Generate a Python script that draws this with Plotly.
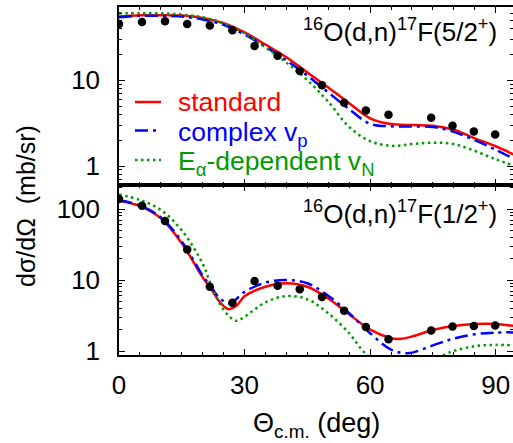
import plotly.graph_objects as go

# ---------------- data ----------------
# experimental angles (deg, c.m.)
exp_angles = [0, 5.5, 11, 16.3, 21.7, 27.1, 32.4, 37.9, 43.2, 48.5, 53.8, 59.0, 64.4, 74.6, 79.7, 84.8, 89.9]
exp_52 = [45.2, 47.6, 48.5, 45.2, 43.2, 38.1, 25.0, 19.3, 12.8, 8.75, 5.44, 4.44, 3.95, 3.65, 2.94, 2.53, 2.33]
exp_12 = [138, 111, 68, 27, 8.05, 4.8, 9.7, 8.3, 7.4, 5.75, 3.7, 2.18, 1.46, 1.95, 2.22, 2.25, 2.29]

# 5/2+ theory curves
th_angles_52 = [0, 5, 10, 15, 20, 25, 30, 35, 40, 45, 50, 55, 60, 65, 70, 75, 80, 85, 90, 94.5]
std_52 = [55, 57, 57, 56.5, 53, 46, 36, 26, 18.5, 12.3, 8.2, 5.4, 3.6, 3.08, 3.0, 2.95, 2.65, 2.1, 1.7, 1.35]
cvp_52 = [54, 56, 56, 55, 51, 44, 34, 24.5, 17, 11.3, 7.2, 4.6, 3.1, 2.9, 2.88, 2.85, 2.5, 2.0, 1.55, 1.2]
evn_52 = [60, 60, 60, 58, 54, 46, 35, 24, 16, 10, 5.6, 2.85, 1.95, 1.72, 1.8, 1.87, 1.8, 1.5, 1.2, 1.0]

# 1/2+ theory curves
std_12_angles = [0, 5, 10, 15, 20, 22, 24, 26, 28, 30, 35, 40, 45, 50, 55, 60, 65, 67, 70, 75, 80, 85, 90, 94.5]
std_12 = [131, 110, 74, 33, 10.9, 7.5, 5.0, 3.9, 4.3, 5.9, 8.05, 9.0, 8.05, 5.5, 3.3, 2.0, 1.52, 1.48, 1.6, 1.98, 2.25, 2.4, 2.4, 2.25]
cvp_12_angles = [0, 5, 10, 15, 20, 22, 24, 26.5, 30, 35, 40, 45, 50, 55, 60, 65, 69, 75, 80, 85, 90, 94.5]
cvp_12 = [133, 112, 76, 35, 11.5, 8.0, 5.6, 4.7, 6.8, 9.2, 10, 9.0, 6.0, 3.4, 1.78, 1.05, 0.93, 1.2, 1.5, 1.72, 1.82, 1.83]
evn_12_angles = [0, 5, 10, 15, 20, 22, 25, 28, 30, 35, 40, 45, 50, 55, 58, 60, 65, 70, 75, 78, 80, 85, 90, 94.5]
evn_12 = [160, 134, 97, 50, 17, 8.5, 3.8, 2.67, 3.04, 4.85, 5.95, 5.35, 3.4, 1.78, 1.05, 0.8, 0.45, 0.45, 0.7, 0.9, 1.0, 1.17, 1.22, 1.2]

x_ticks = [0, 30, 60, 90]
y_ticks_top = [1, 10]
y_ticks_bot = [1, 10, 100]

legend_labels = ["standard", "complex v<sub>p</sub>", "E<sub>α</sub>-dependent v<sub>N</sub>"]

# ---------------- styles ----------------
FONT = "Liberation Sans, Arial, Helvetica, sans-serif"
RED = "rgb(255,0,0)"
BLUE = "rgb(0,0,255)"
GREEN = "rgb(0,155,0)"
LW = 2.5
DASH_BLUE = "13px,5px,3px,5px"
DASH_GREEN = "2.5px,3.5px"
colors = [RED, BLUE, GREEN]
dashes = ["solid", DASH_BLUE, DASH_GREEN]

W, H = 513, 443
ML, MR, MT, MB = 119, 0, 7, 88
PW, PH = W - ML - MR, H - MT - MB

def px_x(p):
    return (p - ML) / PW

def px_y(p):
    return (H - MB - p) / PH

fig = go.Figure()

def add_curves(xa, ya, angs, vals, color, dash, name):
    fig.add_trace(go.Scatter(x=angs, y=vals, mode="lines", xaxis=xa, yaxis=ya,
                             line=dict(color=color, width=LW, dash=dash, shape="spline", smoothing=1),
                             name=name, showlegend=False, hoverinfo="skip"))

# top panel (5/2+) on x2/y2
add_curves("x2", "y2", th_angles_52, std_52, RED, "solid", "standard")
add_curves("x2", "y2", th_angles_52, cvp_52, BLUE, DASH_BLUE, "complex vp")
add_curves("x2", "y2", th_angles_52, evn_52, GREEN, DASH_GREEN, "Ea-dependent vN")
fig.add_trace(go.Scatter(x=exp_angles, y=exp_52, mode="markers", xaxis="x2", yaxis="y2",
                         marker=dict(color="black", size=8.5), showlegend=False))

# bottom panel (1/2+) on x/y
add_curves("x", "y", std_12_angles, std_12, RED, "solid", "standard")
add_curves("x", "y", cvp_12_angles, cvp_12, BLUE, DASH_BLUE, "complex vp")
add_curves("x", "y", evn_12_angles, evn_12, GREEN, DASH_GREEN, "Ea-dependent vN")
fig.add_trace(go.Scatter(x=exp_angles, y=exp_12, mode="markers", xaxis="x", yaxis="y",
                         marker=dict(color="black", size=8.5), showlegend=False))

# dummy traces for right-side mirror tick axes
fig.add_trace(go.Scatter(x=[], y=[], xaxis="x", yaxis="y3", showlegend=False))
fig.add_trace(go.Scatter(x=[], y=[], xaxis="x2", yaxis="y4", showlegend=False))

XR = [0, 94.15]
YR_TOP = [-0.221, 1.852]
YR_BOT = [-0.056, 2.338]
split = 170 / PH

def minor_vals(lo, hi):
    return [m * 10 ** e for e in range(lo, hi) for m in range(2, 10)]

xaxis_common = dict(range=XR, showline=True, linecolor="black", linewidth=1.5, mirror="ticks",
                    ticks="inside", ticklen=6, tickwidth=1.2, tickcolor="black",
                    tickvals=x_ticks, showgrid=False, zeroline=False,
                    minor=dict(dtick=5, ticks="inside", ticklen=3.5, tickwidth=1.2, tickcolor="black", showgrid=False),
                    tickfont=dict(size=26, color="black", family=FONT))

yaxis_common = dict(type="log", showline=True, linecolor="black", linewidth=1.5,
                    ticks="inside", ticklen=6, tickwidth=1.2, tickcolor="black",
                    showgrid=False, zeroline=False, ticklabelstandoff=12,
                    tickfont=dict(size=26, color="black", family=FONT))

right_common = dict(type="log", side="right", showline=False,
                    ticks="inside", ticklen=6, tickwidth=1.2, tickcolor="black",
                    showticklabels=False, showgrid=False, zeroline=False)

fig.update_layout(
    width=W, height=H,
    margin=dict(l=ML, r=MR, t=MT, b=MB),
    paper_bgcolor="white", plot_bgcolor="white",
    font=dict(family=FONT, size=26, color="black"),
    xaxis=dict(**xaxis_common, domain=[0, 1], anchor="y", ticklabelstandoff=6),
    xaxis2=dict(**xaxis_common, domain=[0, 1], anchor="y2", matches="x", showticklabels=False),
    yaxis=dict(**yaxis_common, domain=[0, split], anchor="x", range=YR_BOT,
               tickvals=y_ticks_bot, ticktext=[str(v) for v in y_ticks_bot],
               minor=dict(tickvals=minor_vals(0, 3), ticks="inside", ticklen=3.5, tickwidth=1.2, tickcolor="black")),
    yaxis2=dict(**yaxis_common, domain=[split, 1], anchor="x2", range=YR_TOP,
                tickvals=y_ticks_top, ticktext=[str(v) for v in y_ticks_top],
                minor=dict(tickvals=minor_vals(-1, 2), ticks="inside", ticklen=3.5, tickwidth=1.2, tickcolor="black")),
    yaxis3=dict(**right_common, overlaying="y", anchor="x", range=YR_BOT, tickvals=y_ticks_bot,
                minor=dict(tickvals=minor_vals(0, 3), ticks="inside", ticklen=3.5, tickwidth=1.2, tickcolor="black")),
    yaxis4=dict(**right_common, overlaying="y2", anchor="x2", range=YR_TOP, tickvals=y_ticks_top,
                minor=dict(tickvals=minor_vals(-1, 2), ticks="inside", ticklen=3.5, tickwidth=1.2, tickcolor="black")),
    showlegend=False,
)

# manual legend (samples + coloured labels) in the top panel
legend_rows_y = [102, 130.5, 160]
for lab, col, dsh, yy in zip(legend_labels, colors, dashes, legend_rows_y):
    fig.add_shape(type="line", xref="paper", yref="paper",
                  x0=px_x(135), x1=px_x(161), y0=px_y(yy), y1=px_y(yy),
                  line=dict(color=col, width=LW, dash=dsh))
    fig.add_annotation(text=lab, xref="paper", yref="paper",
                       x=px_x(176), y=px_y(yy + (0 if "<sub>" not in lab else 3)),
                       xanchor="left", yanchor="middle", showarrow=False,
                       font=dict(size=26.5, family=FONT, color=col))

fig.add_annotation(text="<sup>16</sup>O(d,n)<sup>17</sup>F(5/2<sup>+</sup>)", xref="paper", yref="paper",
                   x=px_x(499), y=px_y(12), xanchor="right", yanchor="top",
                   showarrow=False, font=dict(size=26, family=FONT, color="black"))
fig.add_annotation(text="<sup>16</sup>O(d,n)<sup>17</sup>F(1/2<sup>+</sup>)", xref="paper", yref="paper",
                   x=px_x(499), y=px_y(194), xanchor="right", yanchor="top",
                   showarrow=False, font=dict(size=26, family=FONT, color="black"))
# axis titles
fig.add_annotation(text="Θ<sub>c.m.</sub> (deg)", xref="paper", yref="paper",
                   x=0.5, y=px_y(425), xanchor="center", yanchor="middle",
                   showarrow=False, font=dict(size=27, family=FONT, color="black"))
fig.add_annotation(text="dσ/dΩ  (mb/sr)", xref="paper", yref="paper", textangle=-90,
                   x=px_x(26), y=px_y(206), xanchor="center", yanchor="middle",
                   showarrow=False, font=dict(size=25, family=FONT, color="black"))

fig.write_html("out.html", config={"displayModeBar": False},
               post_script="document.body.style.margin='0px';")
